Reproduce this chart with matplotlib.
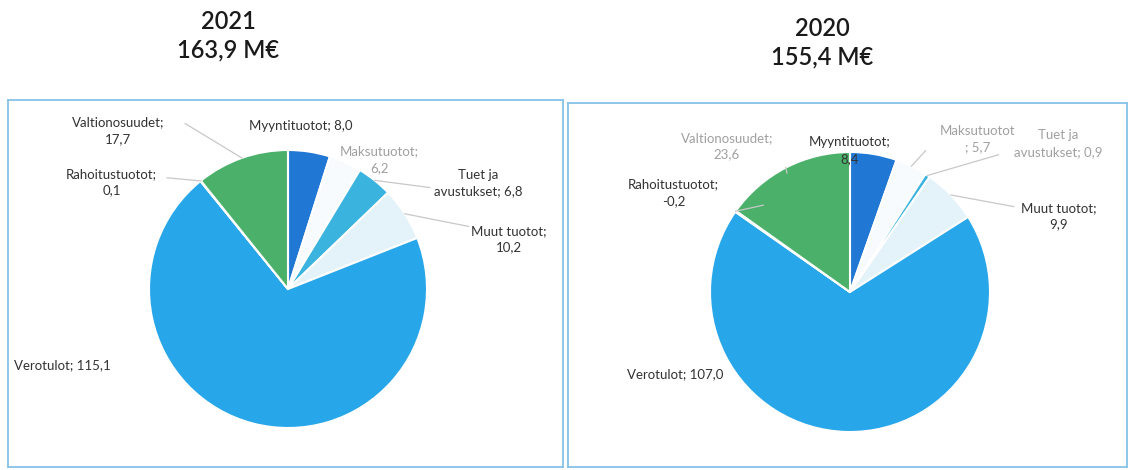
import numpy as np
import matplotlib
matplotlib.use("Agg")
import matplotlib.pyplot as plt

plt.rcParams['font.family'] = ['Lato', 'DejaVu Sans']

# data
categories = ["Myyntituotot", "Maksutuotot", "Tuet ja avustukset", "Muut tuotot",
              "Verotulot", "Rahoitustuotot", "Valtionosuudet"]
values_2021 = [8.0, 6.2, 6.8, 10.2, 115.1, 0.1, 17.7]
values_2020 = [8.4, 5.7, 0.9, 9.9, 107.0, -0.2, 23.6]
totals = ["163,9 M€", "155,4 M€"]
years = ["2021", "2020"]

colors = ["#2178d4", "#f7fbfd", "#3ab4de", "#e4f2fa", "#27a6ea", "#8fc6e8", "#4bb06a"]

W, H = 1130, 470
fig = plt.figure(figsize=(W / 100, H / 100), dpi=100)


def fmt(v):
    return f"{v:.1f}".replace(".", ",")


def px_axes(x0, y0, x1, y1):
    return fig.add_axes([x0 / W, 1 - y1 / H, (x1 - x0) / W, (y1 - y0) / H])


# label layout: name line, value prefix, label pos (data units), connector end (or None)
layout_2021 = {
    "Myyntituotot": ("Myyntituotot; {}", (0.09, 1.17), None),
    "Maksutuotot": ("Maksutuotot;\n{}", (0.66, 0.93), None),
    "Tuet ja avustukset": ("Tuet ja\navustukset; {}", (1.37, 0.76), (1.02, 0.73)),
    "Muut tuotot": ("Muut tuotot;\n{}", (1.59, 0.36), (1.30, 0.45)),
    "Verotulot": ("Verotulot; {}", (-1.62, -0.55), None),
    "Rahoitustuotot": ("Rahoitustuotot;\n{}", (-1.27, 0.77), (-0.87, 0.80)),
    "Valtionosuudet": ("Valtionosuudet;\n{}", (-1.22, 1.14), (-0.74, 1.19)),
}
layout_2020 = {
    "Myyntituotot": ("Myyntituotot;\n{}", (0.0, 1.01), None),
    "Maksutuotot": ("Maksutuotot\n; {}", (0.91, 1.09), (0.54, 1.01)),
    "Tuet ja avustukset": ("Tuet ja\navustukset; {}", (1.49, 1.06), (1.06, 0.98)),
    "Muut tuotot": ("Muut tuotot;\n{}", (1.49, 0.54), (1.17, 0.61)),
    "Verotulot": ("Verotulot; {}", (-1.25, -0.59), None),
    "Rahoitustuotot": ("Rahoitustuotot;\n{}", (-1.26, 0.71), (-0.62, 0.62)),
    "Valtionosuudet": ("Valtionosuudet;\n{}", (-0.88, 1.04), (-0.45, 0.85)),
}
faded_2021 = {"Maksutuotot"}
faded_2020 = {"Valtionosuudet", "Maksutuotot", "Tuet ja avustukset"}

panels = [
    dict(box=(8, 100, 563, 467), center=(288, 289), r=139, vals=values_2021,
         layout=layout_2021, faded=faded_2021, title_xy=(228, 36)),
    dict(box=(568, 103, 1127, 467), center=(850, 292), r=140, vals=values_2020,
         layout=layout_2020, faded=faded_2020, title_xy=(822, 43)),
]

for i, p in enumerate(panels):
    x0, y0, x1, y1 = p["box"]
    cx, cy = p["center"]
    r = p["r"]
    ax = px_axes(x0, y0, x1, y1)
    sizes = [abs(v) for v in p["vals"]]
    wedges, _ = ax.pie(sizes, colors=colors, startangle=90, counterclock=False,
                       radius=1, center=(0, 0),
                       wedgeprops=dict(edgecolor="white", linewidth=1.5))
    ax.set_aspect("auto")
    ax.set_xlim((x0 - cx) / r, (x1 - cx) / r)
    ax.set_ylim((cy - y1) / r, (cy - y0) / r)
    ax.set_frame_on(True)
    for s in ax.spines.values():
        s.set_color("#86c3e8")
        s.set_linewidth(1.3)
    ax.set_xticks([])
    ax.set_yticks([])

    for w, cat, v in zip(wedges, categories, p["vals"]):
        tmpl, (tx, ty), conn = p["layout"][cat]
        col = "#a0a0a0" if cat in p["faded"] else "#333333"
        if conn is not None:
            ang = np.deg2rad((w.theta1 + w.theta2) / 2)
            ax.plot([np.cos(ang), conn[0]], [np.sin(ang), conn[1]],
                    color="#c8c8c8", lw=0.9, zorder=1)
        ax.text(tx, ty, tmpl.format(fmt(v)), ha="center", va="center",
                fontsize=9.5, color=col, linespacing=1.45, zorder=5)

    tx, ty = p["title_xy"]
    fig.text(tx / W, 1 - ty / H, f"{years[i]}\n{totals[i]}", ha="center", va="center",
             fontsize=17, fontweight="semibold", color="#1a1a1a", linespacing=1.3)

fig.savefig("out.png", dpi=100)
